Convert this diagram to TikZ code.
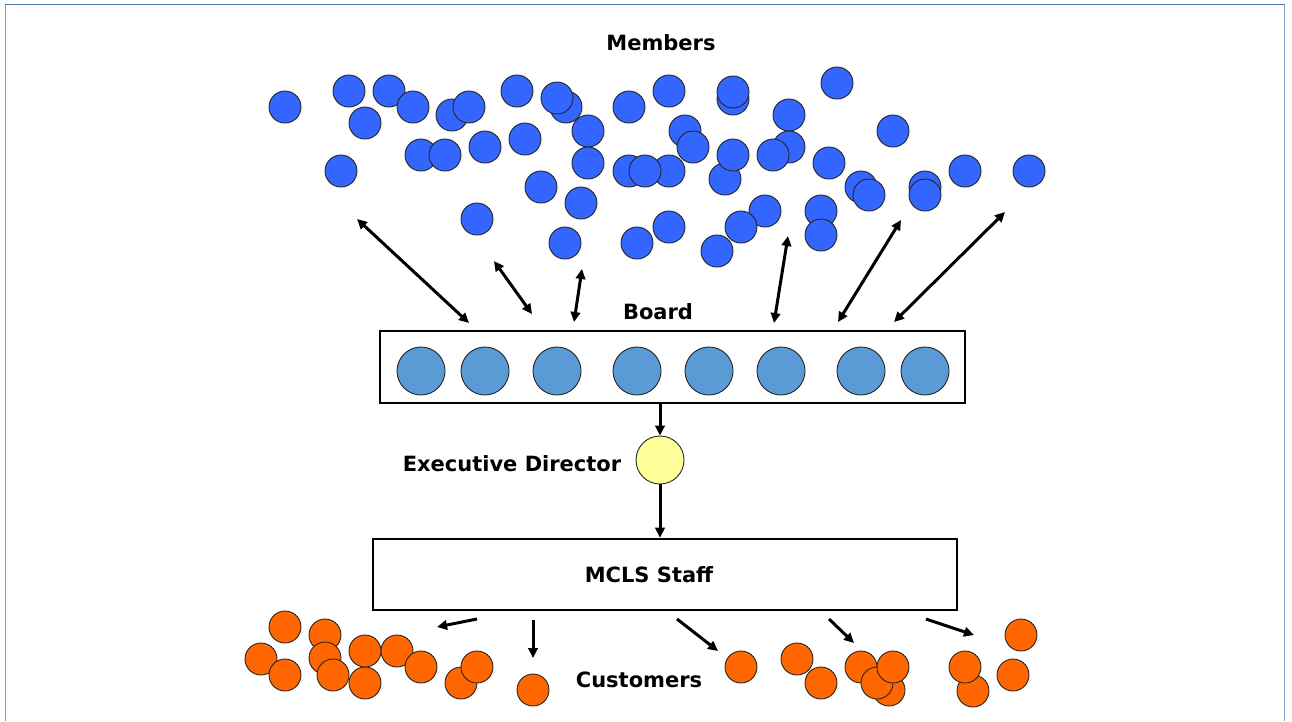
\documentclass[tikz,border=0pt]{standalone}
\usepackage{fontspec}
\setmainfont{DejaVu Sans}
\usetikzlibrary{arrows.meta}
\definecolor{memblue}{RGB}{51,102,255}
\definecolor{boardblue}{RGB}{91,155,213}
\definecolor{edyellow}{RGB}{255,255,153}
\definecolor{custorange}{RGB}{255,102,0}
\definecolor{frametop}{RGB}{74,118,168}
\definecolor{frameside}{RGB}{125,163,200}
\tikzset{
  mem/.style={circle,draw=black!85,line width=0.9pt,fill=memblue,minimum size=32pt,inner sep=0pt},
  cust/.style={circle,draw=black!85,line width=0.9pt,fill=custorange,minimum size=32pt,inner sep=0pt},
  bmem/.style={circle,draw=black!85,line width=0.9pt,fill=boardblue,minimum size=48pt,inner sep=0pt},
  edc/.style={circle,draw=black!85,line width=0.9pt,fill=edyellow,minimum size=48pt,inner sep=0pt},
  box/.style={rectangle,draw=black,line width=2.6pt,fill=white,inner sep=0pt},
  lbl/.style={font=\bfseries\fontsize{21}{25}\selectfont,inner sep=0pt},
  arr/.style={line width=3pt,-{Triangle[length=10pt,width=9.5pt]}},
  darr/.style={line width=3pt,{Triangle[length=10pt,width=9.5pt]}-{Triangle[length=10pt,width=9.5pt]}},
}
\begin{document}
\begin{tikzpicture}[x=1pt,y=-1pt]
\useasboundingbox (0,0) rectangle (1292,721);
\fill[white] (0,0) rectangle (1292,721);
% frame
\draw[frameside,line width=1.5pt] (5.3,721) -- (5.3,4.5);
\draw[frameside,line width=1.5pt] (1284.3,721) -- (1284.3,4.5);
\draw[frametop,line width=1.6pt] (4.5,4.5) -- (1285,4.5);

% members
\foreach \px/\py [count=\i] in {285/107,349/91,389/91,365/123,413/107,452/115,469/107,517/91,566/107,557/98,
  588/131,629/107,669/91,733/99,733/92,837/83,789/115,893/131,685/131,693/147,
  341/171,421/155,445/155,485/147,525/139,588/163,629/171,669/171,645/171,725/179,
  733/155,789/147,773/155,829/163,861/187,869/195,925/187,925/195,965/171,1029/171,
  541/187,581/203,477/219,565/243,637/243,669/227,765/211,741/227,717/251,821/211,821/235}
  \node[mem] (m\i) at (\px,\py) {};
\node[lbl] (members) at (661,43) {Members};

% board
\node[box,minimum width=585pt,minimum height=72pt] (board) at (672.5,367) {};
\foreach \px [count=\i] in {421,485,557,637,709,781,861,925}
  \node[bmem] (b\i) at (\px,371) {};
\node[lbl] (boardlbl) at (658,312) {Board};

% member-board arrows
\coordinate (u1) at (357,219); \coordinate (l1) at (469,323);
\coordinate (u2) at (494,261); \coordinate (l2) at (532,314);
\coordinate (u3) at (582,269); \coordinate (l3) at (574,322);
\coordinate (u4) at (788,236); \coordinate (l4) at (774,323);
\coordinate (u5) at (901,220); \coordinate (l5) at (838,322);
\coordinate (u6) at (1005,212); \coordinate (l6) at (894,322);
\foreach \i in {1,...,6} \draw[darr] (u\i) -- (l\i);

% executive director
\node[edc] (ed) at (660,460) {};
\node[lbl] (edlbl) at (512,464) {Executive Director};
\draw[arr] (board.south -| ed) -- (ed.north);

% staff
\node[box,minimum width=584pt,minimum height=71pt] (staff) at (665,574.5) {};
\node[lbl] (stafflbl) at (649,575) {MCLS Staff};
\draw[arr] (ed.south) -- (staff.north -| ed);

% customers
\foreach \px/\py [count=\i] in {285/627,325/635,325/658,333/675,261/659,285/675,365/683,365/651,397/651,421/667,
  461/683,477/667,533/690,741/667,797/659,821/683,889/690,861/667,877/683,893/667,
  973/691,965/667,1021/635,1013/675}
  \node[cust] (c\i) at (\px,\py) {};
\node[lbl] (custlbl) at (639,680) {Customers};

% staff-customer arrows
\coordinate (s1) at (477,619); \coordinate (t1) at (437,627);
\coordinate (s2) at (533,620); \coordinate (t2) at (533,658);
\coordinate (s3) at (677,619); \coordinate (t3) at (718,651);
\coordinate (s4) at (829,619); \coordinate (t4) at (854,643);
\coordinate (s5) at (926,619); \coordinate (t5) at (974,635);
\foreach \i in {1,...,5} \draw[arr] (s\i) -- (t\i);
\end{tikzpicture}
\end{document}
